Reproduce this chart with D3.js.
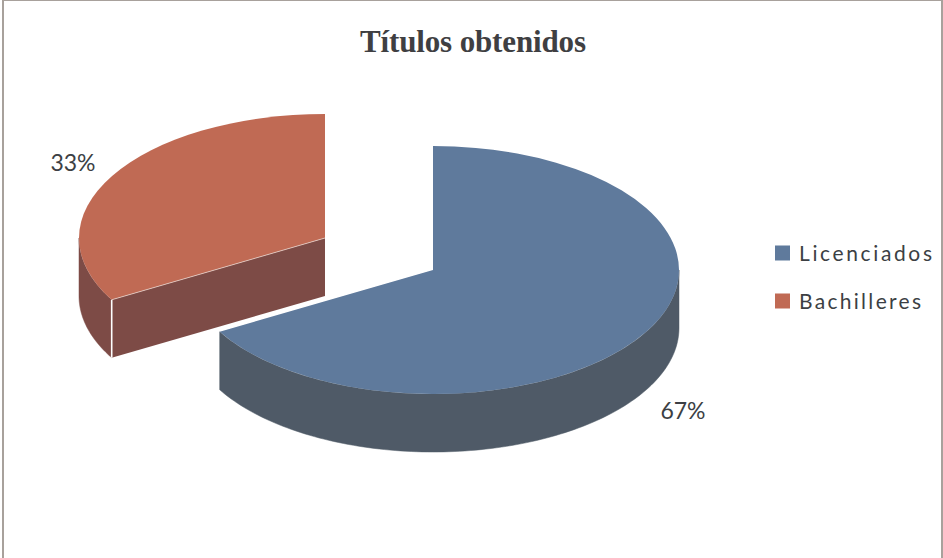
<!DOCTYPE html>
<html><head><meta charset="utf-8">
<script src="https://cdn.jsdelivr.net/npm/d3@7"></script>
<style>html,body{margin:0;padding:0;background:#fff}svg{display:block}</style>
</head><body><svg id="c" width="943" height="558"></svg>
<script>
const categories = ["Licenciados", "Bachilleres"];
const values = [66.7, 33.3];
const labels = ["67%", "33%"];
const topColors = ["#5f7a9c", "#c06a54"];
const wallColors = ["#4f5a67", "#7d4b46"];
const titleText = "Títulos obtenidos";

const svg = d3.select("#c");
svg.append("rect").attr("x",3).attr("y",0).attr("width",939).attr("height",570)
  .attr("fill","#fff").attr("stroke","#a8a19c").attr("stroke-width",2);

const rx = 246, ry = 124, depth = 58;
const centers = [[433,270],[325,238]];
const pie = d3.pie().sort(null).value(d=>d)(values);
const arc = d3.arc().innerRadius(0).outerRadius(rx);
const px = (a,c)=>c[0]+rx*Math.sin(a), py=(a,c)=>c[1]-ry*Math.cos(a);

function wall(g,c,a0,a1,fill){
  if(a1<=a0) return;
  const steps=d3.range(0,121).map(i=>a0+(a1-a0)*i/120);
  const area=d3.area().x(a=>px(a,c)).y0(a=>py(a,c)).y1(a=>py(a,c)+depth);
  g.append("path").attr("d",area(steps)).attr("fill",fill).attr("stroke",fill).attr("stroke-width",.5);
}
// draw the detached slice first, the large slice overlaps it
[1,0].forEach(i=>{
  const s=pie[i], c=centers[i], g=svg.append("g");
  if(i===1){
    // cut face from the centre to the rim
    const ex=px(s.startAngle,c), ey=py(s.startAngle,c);
    const face=d3.area().x(d=>d[0]).y0(d=>d[1]).y1(d=>d[1]+depth);
    g.append("path").attr("d",face([[ex,ey],[c[0],c[1]]])).attr("fill",wallColors[i]);
    wall(g,c,s.startAngle,3*Math.PI/2,wallColors[i]);
    g.append("line").attr("x1",ex).attr("x2",ex).attr("y1",ey).attr("y2",ey+depth)
      .attr("stroke","#fff").attr("stroke-width",1.6);
  } else {
    wall(g,c,Math.PI/2,s.endAngle,wallColors[i]);
  }
  g.append("path").attr("d",arc(s))
    .attr("transform",`translate(${c[0]},${c[1]}) scale(1,${ry/rx})`)
    .attr("fill",topColors[i]);
  if(i===1){
    const ex=px(s.startAngle,c), ey=py(s.startAngle,c);
    g.append("line").attr("x1",ex).attr("y1",ey).attr("x2",c[0]).attr("y2",c[1])
      .attr("stroke","#e6cfc8").attr("stroke-width",.8);
  } else {
    const ex=px(s.endAngle,c), ey=py(s.endAngle,c);
    g.append("line").attr("x1",ex).attr("y1",ey).attr("x2",c[0]).attr("y2",c[1])
      .attr("stroke","#fff").attr("stroke-width",3).attr("transform","translate(-1,-2)");
  }
});

svg.append("text").attr("x",473).attr("y",52).attr("text-anchor","middle")
  .attr("font-family","Liberation Serif").attr("font-weight","bold").attr("font-size",31)
  .attr("textLength",226).attr("fill","#3f3f42").text(titleText);

const labelPos=[[683,419],[73,171]];
labels.forEach((t,i)=>svg.append("text").attr("x",labelPos[i][0]).attr("y",labelPos[i][1])
  .attr("text-anchor","middle").attr("font-family","Lato").attr("font-size",23)
  .attr("fill","#3c3f44").text(t));

const legendY=d3.scaleBand().domain(categories).range([230,326]);
categories.forEach((t,i)=>{
  const y=legendY(t)+legendY.bandwidth()/2;
  svg.append("rect").attr("x",775).attr("y",y-7.5-1).attr("width",15).attr("height",15).attr("fill",topColors[i]);
  svg.append("text").attr("x",799).attr("y",y+7).attr("font-family","Lato").attr("font-size",21)
    .attr("textLength",i===0?133:122).attr("fill","#3c3f44").text(t);
});
</script></body></html>
